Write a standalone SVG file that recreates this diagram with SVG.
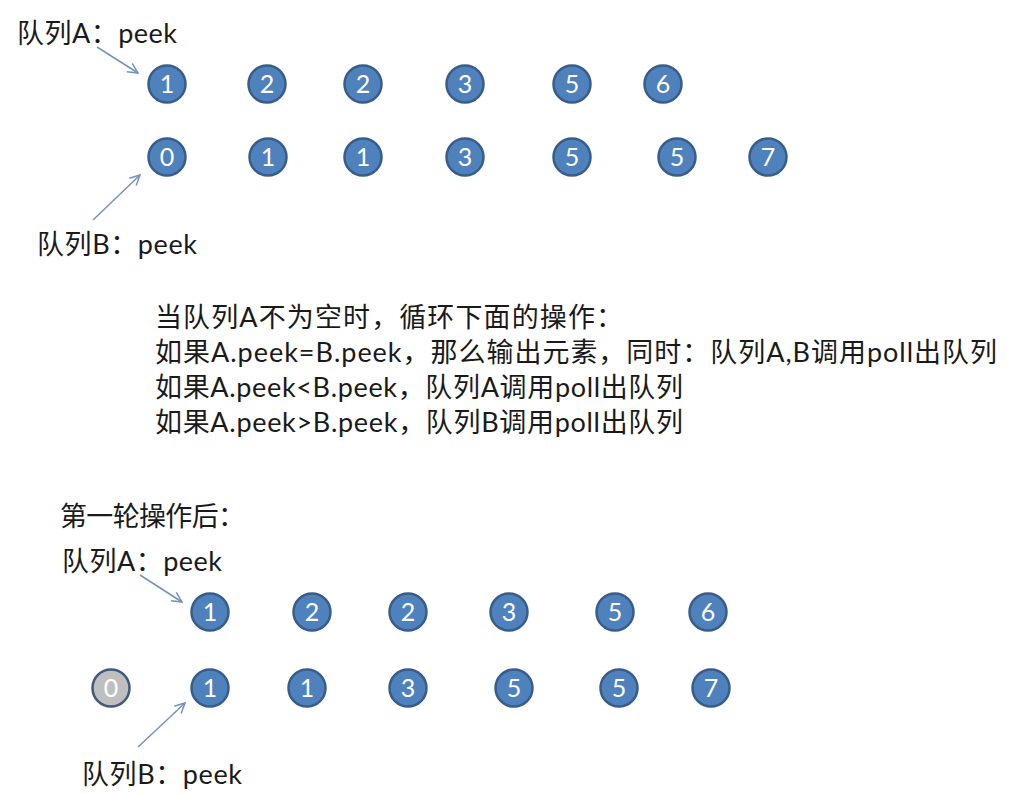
<svg xmlns="http://www.w3.org/2000/svg" width="1024" height="794" viewBox="0 0 1024 794">
<style>
.lbl{font-family:Lato,"Noto Sans CJK SC",sans-serif;font-size:27px;fill:#1a1a1a}
.txt{font-family:Lato,"Noto Sans CJK SC",sans-serif;font-size:27px;fill:#1a1a1a}
.n circle{fill:#4f81bd;stroke:#385d8a;stroke-width:2.5}
.g circle{fill:#bfbfbf;stroke:#3f5a7e;stroke-width:2.5}
.n text,.g text{font-family:Lato,"Liberation Sans",sans-serif;font-size:25px;fill:#fff;text-anchor:middle}
.arr{stroke:#7394bd;stroke-width:1.5;fill:none;marker-end:url(#ah)}
</style>
<defs>
<marker id="ah" viewBox="0 0 12 12" refX="11" refY="6" markerWidth="12" markerHeight="12" markerUnits="userSpaceOnUse" orient="auto">
<path d="M1,1 L11,6 L1,11" fill="none" stroke="#7394bd" stroke-width="1.5"/>
</marker>
</defs>
<rect width="1024" height="794" fill="#fff"/>

<g id="labels">
<text class="lbl" x="17" y="43" textLength="160" lengthAdjust="spacing">队列A：peek</text>
<text class="lbl" x="37" y="254" textLength="160" lengthAdjust="spacing">队列B：peek</text>
<text class="txt" x="155" y="327" textLength="468" lengthAdjust="spacing">当队列A不为空时，循环下面的操作：</text>
<text class="txt" x="155" y="362" textLength="842" lengthAdjust="spacing">如果A.peek=B.peek，那么输出元素，同时：队列A,B调用poll出队列</text>
<text class="txt" x="155" y="397" textLength="528" lengthAdjust="spacing">如果A.peek&lt;B.peek，队列A调用poll出队列</text>
<text class="txt" x="155" y="432" textLength="528" lengthAdjust="spacing">如果A.peek&gt;B.peek，队列B调用poll出队列</text>
<text class="txt" x="60" y="526" textLength="185" lengthAdjust="spacing">第一轮操作后：</text>
<text class="lbl" x="62" y="571" textLength="160" lengthAdjust="spacing">队列A：peek</text>
<text class="lbl" x="82" y="784" textLength="160" lengthAdjust="spacing">队列B：peek</text>
</g>

<g id="connectors">
<line class="arr" x1="97" y1="47" x2="138" y2="73"/>
<line class="arr" x1="93" y1="220" x2="140" y2="175"/>
<line class="arr" x1="140" y1="575" x2="182" y2="602"/>
<line class="arr" x1="138" y1="747" x2="185" y2="703"/>
</g>

<g id="a1-1" class="n"><circle cx="167" cy="84" r="18.5"/><text x="167" y="93">1</text></g>
<g id="a1-2" class="n"><circle cx="267" cy="84" r="18.5"/><text x="267" y="93">2</text></g>
<g id="a1-3" class="n"><circle cx="363" cy="84" r="18.5"/><text x="363" y="93">2</text></g>
<g id="a1-4" class="n"><circle cx="465" cy="84" r="18.5"/><text x="465" y="93">3</text></g>
<g id="a1-5" class="n"><circle cx="572" cy="84" r="18.5"/><text x="572" y="93">5</text></g>
<g id="a1-6" class="n"><circle cx="663" cy="84" r="18.5"/><text x="663" y="93">6</text></g>

<g id="b1-1" class="n"><circle cx="167" cy="157" r="18.5"/><text x="167" y="166">0</text></g>
<g id="b1-2" class="n"><circle cx="268" cy="157" r="18.5"/><text x="268" y="166">1</text></g>
<g id="b1-3" class="n"><circle cx="363" cy="157" r="18.5"/><text x="363" y="166">1</text></g>
<g id="b1-4" class="n"><circle cx="465" cy="157" r="18.5"/><text x="465" y="166">3</text></g>
<g id="b1-5" class="n"><circle cx="572" cy="157" r="18.5"/><text x="572" y="166">5</text></g>
<g id="b1-6" class="n"><circle cx="677" cy="157" r="18.5"/><text x="677" y="166">5</text></g>
<g id="b1-7" class="n"><circle cx="768" cy="157" r="18.5"/><text x="768" y="166">7</text></g>

<g id="a2-1" class="n"><circle cx="210" cy="612" r="18.5"/><text x="210" y="621">1</text></g>
<g id="a2-2" class="n"><circle cx="312" cy="612" r="18.5"/><text x="312" y="621">2</text></g>
<g id="a2-3" class="n"><circle cx="408" cy="612" r="18.5"/><text x="408" y="621">2</text></g>
<g id="a2-4" class="n"><circle cx="509" cy="612" r="18.5"/><text x="509" y="621">3</text></g>
<g id="a2-5" class="n"><circle cx="615" cy="612" r="18.5"/><text x="615" y="621">5</text></g>
<g id="a2-6" class="n"><circle cx="708" cy="612" r="18.5"/><text x="708" y="621">6</text></g>

<g id="b2-0" class="g"><circle cx="111" cy="688" r="18.5"/><text x="111" y="697">0</text></g>
<g id="b2-1" class="n"><circle cx="210" cy="688" r="18.5"/><text x="210" y="697">1</text></g>
<g id="b2-2" class="n"><circle cx="307" cy="688" r="18.5"/><text x="307" y="697">1</text></g>
<g id="b2-3" class="n"><circle cx="408" cy="688" r="18.5"/><text x="408" y="697">3</text></g>
<g id="b2-4" class="n"><circle cx="514" cy="688" r="18.5"/><text x="514" y="697">5</text></g>
<g id="b2-5" class="n"><circle cx="619" cy="688" r="18.5"/><text x="619" y="697">5</text></g>
<g id="b2-6" class="n"><circle cx="711" cy="688" r="18.5"/><text x="711" y="697">7</text></g>
</svg>
